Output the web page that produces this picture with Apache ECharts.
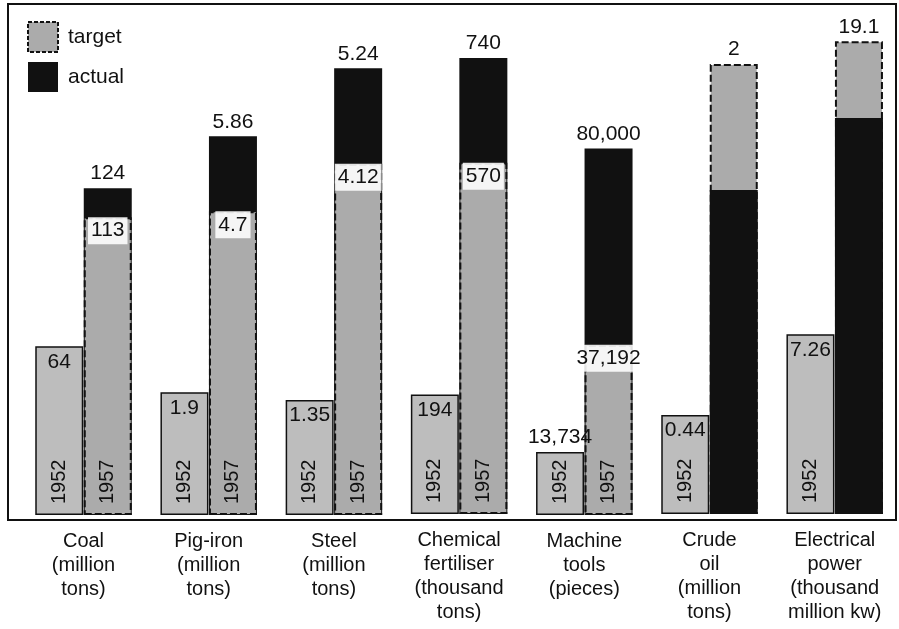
<!DOCTYPE html>
<html>
<head>
<meta charset="utf-8">
<script src="https://cdn.jsdelivr.net/npm/echarts@6/dist/echarts.min.js"></script>
<style>
  html, body { margin: 0; padding: 0; background: #fff; }
  #chart { width: 899px; height: 629px; }
</style>
</head>
<body>
<div id="chart"></div>
<script>
// Output of key products, 1952 versus the 1957 plan target and 1957 actual
const categories = [
  'Coal\n(million\ntons)',
  'Pig-iron\n(million\ntons)',
  'Steel\n(million\ntons)',
  'Chemical\nfertiliser\n(thousand\ntons)',
  'Machine\ntools\n(pieces)',
  'Crude\noil\n(million\ntons)',
  'Electrical\npower\n(thousand\nmillion kw)'
];
const years = ['1952', '1957'];
const output1952 = [64, 1.9, 1.35, 194, 13734, 0.44, 7.26];
const target1957 = [113, 4.7, 4.12, 570, 37192, 2, 19.1];
const actual1957 = [124, 5.86, 5.24, 740, 80000, 1.44, 16.0];
// Each product has its own unit, so each panel gets its own value-axis range
const axisMax = [195.4, 7.97, 6.04, 834, 112450, 2.284, 20.77];

const FONT = "'Liberation Sans', Arial, sans-serif";
const INK = '#111';
const GRAY_1952 = '#bdbdbd';
const GRAY_TARGET = '#ababab';
const DARK = '#111';
const fmt = v => Number(v).toLocaleString('en-US');

const grids = [], xAxes = [], yAxes = [], series = [];

categories.forEach((name, i) => {
  const overshoot = actual1957[i] >= target1957[i];
  grids.push({ left: 35 + i * 125.2, width: 97, top: 0, bottom: 114 });
  xAxes.push({
    type: 'category', gridIndex: i, data: years, z: 10,
    name: name, nameLocation: 'middle', nameGap: 14,
    nameTextStyle: { fontSize: 20, lineHeight: 24, color: INK, fontFamily: FONT, verticalAlign: 'top' },
    axisLine: { show: false }, axisTick: { show: false },
    axisLabel: {
      inside: true, rotate: 90, margin: 11, fontSize: 20, color: INK, fontFamily: FONT,
      formatter: v => (v === '1957' && !overshoot) ? '' : v
    }
  });
  yAxes.push({ type: 'value', gridIndex: i, min: 0, max: axisMax[i], show: false, splitLine: { show: false } });

  const common = { type: 'bar', xAxisIndex: i, yAxisIndex: i, barWidth: 48, barGap: '-100%' };
  const numLabel = { show: true, fontSize: 21, color: INK, fontFamily: FONT, formatter: p => fmt(p.value) };
  const wide = fmt(output1952[i]).length > 5;

  series.push(Object.assign({}, common, {
    name: '1952', z: 4,
    data: [output1952[i], '-'],
    itemStyle: { color: GRAY_1952, borderColor: INK, borderWidth: 1.5 },
    label: Object.assign({}, numLabel, {
      position: wide ? 'top' : 'insideTop',
      distance: wide ? 4 : 5
    })
  }));
  series.push(Object.assign({}, common, {
    name: 'actual', z: overshoot ? 2 : 3,
    data: ['-', actual1957[i]],
    itemStyle: { color: DARK },
    label: overshoot ? Object.assign({}, numLabel, { position: 'top', distance: 4 }) : { show: false }
  }));
  series.push(Object.assign({}, common, {
    name: 'target', z: overshoot ? 3 : 2,
    data: ['-', target1957[i]],
    itemStyle: { color: GRAY_TARGET, borderColor: INK, borderWidth: 2, borderType: [7, 3] },
    label: overshoot
      ? Object.assign({}, numLabel, { position: 'insideTop', distance: 0, backgroundColor: 'rgba(255,255,255,0.88)', padding: [3, 3, 3, 3] })
      : Object.assign({}, numLabel, { position: 'top', distance: 4 })
  }));
});

const chart = echarts.init(document.getElementById('chart'), null, { renderer: 'canvas' });
chart.setOption({
  animation: false,
  backgroundColor: '#fff',
  grid: grids,
  xAxis: xAxes,
  yAxis: yAxes,
  legend: {
    orient: 'vertical', left: 22, top: 16, itemWidth: 30, itemHeight: 30, itemGap: 9,
    selectedMode: false,
    textStyle: { fontSize: 21, color: INK, fontFamily: FONT, padding: [0, 0, 0, 5] },
    data: [
      { name: 'target', icon: 'rect', itemStyle: { color: GRAY_TARGET, borderColor: INK, borderWidth: 2, borderType: [4, 2] } },
      { name: 'actual', icon: 'rect', itemStyle: { color: DARK } }
    ]
  },
  graphic: [{
    type: 'rect', silent: true, z: -1,
    shape: { x: 8, y: 4, width: 888, height: 516 },
    style: { fill: null, stroke: INK, lineWidth: 2 }
  }],
  series: series
});
</script>
</body>
</html>
